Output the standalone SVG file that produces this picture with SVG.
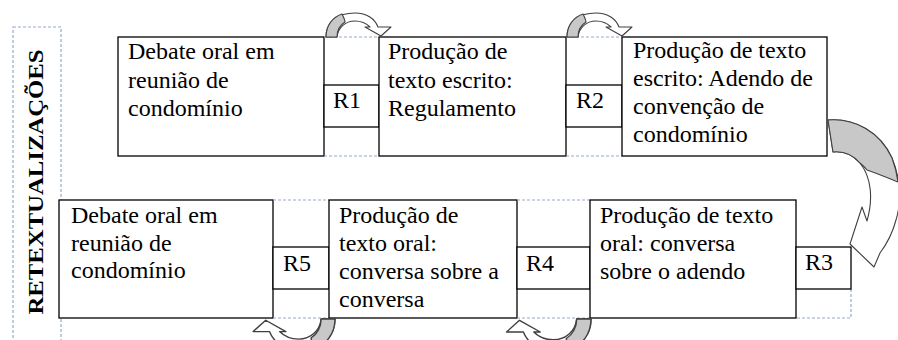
<svg xmlns="http://www.w3.org/2000/svg" width="898" height="340" viewBox="0 0 898 340">
<style>
.box{fill:#fff;stroke:#000;stroke-width:1.3}
.dash{fill:none;stroke:#95a9c8;stroke-width:1.2;stroke-dasharray:3 2}
text{font-family:'Liberation Serif',Tinos,'Times New Roman',serif}
.t{font-size:24px;fill:#000}
.lbl{font-size:21px;font-weight:bold;fill:#000}
.arw{fill:#fff;stroke:#404040;stroke-width:1.1;stroke-linejoin:round}
.shade{fill:#c8c8c8;stroke:#404040;stroke-width:1.1;stroke-linejoin:round}
</style>
<defs>
<g id="curv">
<path class="arw" d="M0,0 C0,-15 12,-24 29,-24 C41,-24 49,-18 52,-10 L65,-10 L55,-1 L39,-10 L44,-10 C40,-14 35,-16 29,-16 C19,-16 12,-9 11,0 Z"/>
<path class="shade" d="M0,0 C0,-12 7,-20 16,-23 C18,-19 19,-16 19,-15 C14,-12 11,-6 11,0 Z"/>
</g>
</defs>

<g id="label">
<rect class="dash" x="13" y="27" width="48" height="320"/>
<text class="lbl" font-family="Liberation Serif, serif" transform="translate(43,182) rotate(-90)" text-anchor="middle" textLength="265" lengthAdjust="spacingAndGlyphs">RETEXTUALIZAÇÕES</text>
</g>

<g id="box1">
<rect class="box" x="118" y="37" width="206" height="119"/>
<text class="t" x="128" y="59">Debate oral em</text>
<text class="t" x="128" y="87.5">reunião de</text>
<text class="t" x="128" y="116">condomínio</text>
</g>
<g id="r1">
<line class="dash" x1="324" y1="37" x2="379" y2="37"/>
<line class="dash" x1="324" y1="156" x2="379" y2="156"/>
<rect class="box" x="324" y="85" width="55" height="42"/>
<text class="t" x="333" y="108">R1</text>
</g>
<g id="box2">
<rect class="box" x="379" y="37" width="187" height="119"/>
<text class="t" x="388" y="59">Produção de</text>
<text class="t" x="388" y="87.5">texto escrito:</text>
<text class="t" x="388" y="116">Regulamento</text>
</g>
<g id="r2">
<line class="dash" x1="566" y1="37" x2="622" y2="37"/>
<line class="dash" x1="566" y1="156" x2="622" y2="156"/>
<rect class="box" x="566" y="85" width="56" height="42"/>
<text class="t" x="576" y="108">R2</text>
</g>
<g id="box3">
<rect class="box" x="622" y="37" width="205" height="119"/>
<text class="t" x="633" y="58">Produção de texto</text>
<text class="t" x="633" y="86">escrito: Adendo de</text>
<text class="t" x="633" y="114">convenção de</text>
<text class="t" x="633" y="142">condomínio</text>
</g>

<g id="box4">
<rect class="box" x="59" y="200" width="214" height="118"/>
<text class="t" x="71" y="223">Debate oral em</text>
<text class="t" x="71" y="251">reunião de</text>
<text class="t" x="71" y="278">condomínio</text>
</g>
<g id="r5">
<line class="dash" x1="273" y1="200" x2="329" y2="200"/>
<line class="dash" x1="273" y1="318" x2="329" y2="318"/>
<rect class="box" x="273" y="247" width="56" height="42"/>
<text class="t" x="283" y="271">R5</text>
</g>
<g id="box5">
<rect class="box" x="329" y="200" width="188" height="118"/>
<text class="t" x="339" y="223">Produção de</text>
<text class="t" x="339" y="251">texto oral:</text>
<text class="t" x="339" y="279">conversa sobre a</text>
<text class="t" x="339" y="307">conversa</text>
</g>
<g id="r4">
<line class="dash" x1="517" y1="200" x2="590" y2="200"/>
<line class="dash" x1="517" y1="318" x2="590" y2="318"/>
<rect class="box" x="517" y="247" width="73" height="42"/>
<text class="t" x="526" y="271">R4</text>
</g>
<g id="box6">
<rect class="box" x="590" y="200" width="206" height="118"/>
<text class="t" x="600" y="223">Produção de texto</text>
<text class="t" x="600" y="251">oral: conversa</text>
<text class="t" x="600" y="279">sobre o adendo</text>
</g>
<g id="r3">
<path class="dash" d="M851,289 L851,318 L796,318"/>
<rect class="box" x="796" y="247" width="55" height="42"/>
<text class="t" x="805" y="270">R3</text>
</g>

<g id="connectors">
<use href="#curv" transform="translate(326,37)"/>
<use href="#curv" transform="translate(567,37)"/>
<use href="#curv" transform="translate(335,319) rotate(180) scale(1.26)"/>
<use href="#curv" transform="translate(591,319) rotate(180) scale(1.3)"/>
<path class="arw" d="M828,120 C855,118 880,132 892,158 C900,178 902,200 896,220 C892,235 886,245 880,253 L874,267 L850,244 L862,207 L867,221 C873,200 872,178 860,163 C852,154 842,151 833,152 Z"/>
<path class="shade" d="M828,120 C855,118 880,132 892,158 C895,166 897,174 898,182 C888,178 876,173 867,170 C864,166 862,165 860,163 C852,154 842,151 833,152 Z"/>
</g>
</svg>
